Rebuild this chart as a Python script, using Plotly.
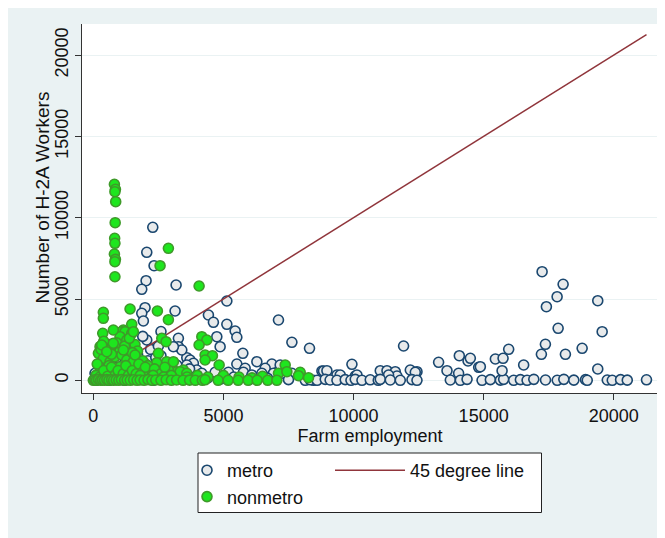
import plotly.graph_objects as go

# ---------------- data ----------------
metro_x = [
    2285, 2054, 2335, 2027, 1862, 3181, 1988, 1862, 1923, 3142, 2054, 3269, 3592, 3269, 3400, 3719, 3846, 3077, 3208, 3592,
    5131, 4423, 4615, 5131, 5450, 5515, 4746, 4873, 7115, 7631, 8308, 5746, 6285, 5515, 6862, 5835, 6604, 7181, 8785,
    3977, 4169, 4681, 5192, 5769, 6092, 6477, 6923, 7308, 7631, 8142, 8462, 8846, 4400, 4900, 5400, 6000, 6700, 7500,
    11923, 8977, 9938, 9362, 10065, 11027, 11285, 11604, 11669, 12181, 12438, 13269, 13592, 14065, 14400, 14488, 14808,
    14038, 9488, 10131, 11346, 12373,
    8335, 8600, 8912, 9100, 9362, 9681, 9900, 10065, 10323, 10642, 10950, 11027, 11412, 11796, 12246, 12438, 13719, 14104,
    14362, 14938, 15258, 15642, 15769, 16154, 16412, 16669, 16927, 17377, 17827, 18081, 18465, 18915, 18981, 19750, 19942,
    20262, 20519, 21258,
    17246, 18054, 17823, 17411, 19385, 19554, 17862, 17373, 17219, 18142, 18785, 15962, 15450, 15746, 15708, 16538, 19385, 14873,
    100, 200, 300, 400, 500, 600, 700, 800, 900, 1000, 1100, 1200, 1300, 1400, 1500, 1600, 1700, 1800, 1900, 2000,
    2100, 2200, 2300, 2400, 2500, 2600, 2700, 2800, 2900, 3000, 3100, 3300, 3500, 3700, 2200, 1700, 600, 400, 1300, 2500,
    1900, 2600, 300, 900, 1100, 2000, 2400, 65, 1154, 3900,
]
metro_y = [
    9410, 7872, 7048, 6125, 5597, 5861, 4465, 4120, 3647, 4262, 2478, 2583, 1390, 2066, 1863, 1248, 1045, 2066, 941, 941,
    4877, 4016, 3567, 3444, 3032, 2645, 2681, 2066, 3708, 2337, 1968, 1660, 1144, 1002, 1002, 738, 738, 941, 572,
    633, 430, 492, 492, 492, 326, 430, 430, 430, 430, 0, 0, 572, 150, 80, 200, 60, 120, 40,
    2109, 590, 984, 326, 264, 590, 590, 529, 264, 633, 529, 1107, 590, 1513, 1187, 1353, 800,
    430, 326, 326, 326, 492,
    30, 0, 60, 20, 0, 40, 0, 60, 0, 30, 0, 60, 20, 0, 40, 0, 20, 0,
    60, 0, 40, 10, 60, 0, 40, 0, 60, 20, 0, 60, 10, 40, 0, 20, 0,
    40, 10, 30,
    6679, 5904, 5141, 4526, 4895, 2989, 3198, 2214, 1599, 1599, 1968, 1906, 1310, 1353, 590, 941, 695, 836,
    0, 100, 50, 300, 150, 0, 400, 200, 50, 600, 300, 0, 800, 200, 500, 100, 1000, 300, 700, 150,
    1200, 400, 0, 800, 250, 1500, 100, 600, 300, 900, 150, 400, 100, 700, 1900, 1600, 2200, 1800, 2300, 2100,
    2700, 3000, 1100, 1400, 2000, 1000, 1400, 430, 2374, 200,
]

nonmetro_x = [
    810, 850, 830, 860, 840, 820, 830, 810, 850, 830, 830,
    2885, 2565, 4065, 385, 385, 1412, 2462, 2885, 362, 1477, 2631, 2796, 1154, 4169, 4362, 4065, 4296, 4577, 4296, 4835,
    7373, 7115, 7438, 7950, 7885, 8269,
    1092, 1220, 1477, 1027, 1285, 1412, 1027, 642, 258, 196, 385, 642, 835, 1092, 1285, 1538, 1027, 515, 258, 708, 1412,
    1796, 2438, 2500, 2438, 2823, 3208, 3462, 2115, 1600, 1700, 900, 1200, 1500, 400, 300, 700, 1900, 2100, 1300, 600, 150,
    769, 1385, 1538, 323, 515, 769, 1154, 1604, 1731, 2885, 3335, 3592, 100, 250, 400, 550, 700, 850, 950, 1150, 1250,
    1350, 1500, 1650, 1750, 1900, 2000, 2350, 2600, 2750, 3077,
    1800, 2300, 2700, 3000, 3600, 4000, 4400, 5000, 5600, 6100, 6500,
    0, 60, 120, 200, 280, 350, 430, 520, 600, 700, 780, 880, 980, 1080, 1200, 1300, 1420, 1550, 1680, 1800, 1950, 2100,
    2250, 2400, 2600, 2800, 3000, 3200, 3450, 3700, 3919, 4188, 4296, 4796, 5181, 5565, 5950, 6296, 6700, 7054,
]
nonmetro_y = [
    12054, 11747, 11600, 10984, 9692, 8733, 8425, 7767, 7440, 7295, 6370,
    8118, 7048, 5800, 4182, 3813, 4385, 4262, 3727, 2890, 3444, 2583, 2374, 3093, 2681, 2478, 2171, 1556, 1513, 1248, 941,
    941, 430, 529, 492, 283, 160,
    2989, 2989, 2890, 2681, 2478, 1968, 1863, 1863, 2066, 1660, 1353, 1144, 1451, 1556, 1248, 1144, 836, 738, 529, 430, 529,
    633, 633, 1660, 1082, 1144, 529, 633, 529, 2200, 1800, 2300, 2100, 1700, 2400, 1900, 1600, 1200, 900, 700, 900, 1000,
    3093, 2583, 2989, 2171, 1759, 2275, 1863, 1556, 633, 633, 529, 430, 300, 200, 600, 250, 800, 350, 600, 400, 900,
    300, 600, 400, 1000, 500, 800, 700, 400, 800, 1144,
    300, 300, 200, 300, 200, 300, 200, 300, 200, 150, 250,
    0, 30, 0, 50, 0, 20, 0, 40, 0, 30, 0, 20, 0, 40, 0, 20, 0, 30, 0, 20, 0, 40,
    0, 20, 0, 30, 0, 20, 0, 10, 0, 0, 30, 0, 0, 0, 0, 0, 0, 0,
]

x_ticks = [0, 5000, 10000, 15000, 20000]
y_ticks = [0, 5000, 10000, 15000, 20000]

# 45 degree line spans the observed farm-employment range
line_end = max(metro_x + nonmetro_x)
line_x = [0, line_end]
line_y = [0, line_end]

# ---------------- styling ----------------
FONT = "Arial, Liberation Sans, sans-serif"
FS = 18
NAVY = "#1A476F"
MAROON = "#90353B"
FRAME_BG = "#EAF2F3"

fig = go.Figure()
fig.add_trace(go.Scatter(
    x=metro_x, y=metro_y, mode="markers", name="metro", legend="legend",
    marker=dict(size=10, color="#E8EAEB", line=dict(color=NAVY, width=1.6)),
))
fig.add_trace(go.Scatter(
    x=line_x, y=line_y, mode="lines", name="45 degree line", legend="legend2",
    line=dict(color=MAROON, width=1.5),
))
fig.add_trace(go.Scatter(
    x=nonmetro_x, y=nonmetro_y, mode="markers", name="nonmetro", legend="legend",
    marker=dict(size=10, color="#1EE61E", line=dict(color="#3F9A2A", width=1.6)),
))

W, H = 665, 538
ml, mr, mt, mb = 74, 15, 16, 153
pw, ph = W - ml - mr, H - mt - mb


def px_x(p):
    return (p - ml) / pw


def px_y(p):
    return (H - mb - p) / ph


shapes = [
    # legend box
    dict(type="rect", xref="paper", yref="paper", x0=px_x(190), x1=px_x(533.5), y0=px_y(504.5), y1=px_y(445),
         fillcolor="white", line=dict(color="#222222", width=1), layer="below"),
]

annotations = [
    dict(text="Number of H-2A Workers", textangle=-90, xref="paper", yref="paper",
         x=px_x(33.5), y=px_y(190), xanchor="center", yanchor="middle", showarrow=False,
         font=dict(family=FONT, size=19, color="#111111")),
]

fig.update_layout(
    width=W, height=H,
    margin=dict(l=ml, r=mr, t=mt, b=mb),
    paper_bgcolor=FRAME_BG,
    plot_bgcolor="white",
    font=dict(family=FONT, size=FS, color="#111111"),
    shapes=shapes,
    annotations=annotations,
    legend=dict(
        x=px_x(179), y=px_y(444), xanchor="left", yanchor="top",
        orientation="v", bgcolor="rgba(0,0,0,0)", borderwidth=0,
        font=dict(family=FONT, size=FS, color="#111111"), tracegroupgap=0,
    ),
    legend2=dict(
        x=px_x(322), y=px_y(444), xanchor="left", yanchor="top",
        orientation="v", bgcolor="rgba(0,0,0,0)", borderwidth=0, itemwidth=70,
        font=dict(family=FONT, size=FS, color="#111111"),
    ),
    xaxis=dict(
        range=[-435, 21700], tickvals=x_ticks, ticktext=[str(v) for v in x_ticks],
        showgrid=False, zeroline=False,
        showline=True, linecolor="#333333", linewidth=1,
        ticks="outside", ticklen=6, tickcolor="#333333",
        title=dict(text="Farm employment", standoff=2, font=dict(size=FS)),
        automargin=False,
    ),
    yaxis=dict(
        range=[-781, 21913], tickvals=y_ticks, ticktext=[str(v) for v in y_ticks],
        tickangle=-90,
        showgrid=True, gridcolor=FRAME_BG, gridwidth=1, zeroline=False,
        showline=True, linecolor="#333333", linewidth=1,
        ticks="outside", ticklen=6, tickcolor="#333333",
        automargin=False,
    ),
    showlegend=True,
)

fig.write_html("out.html")
